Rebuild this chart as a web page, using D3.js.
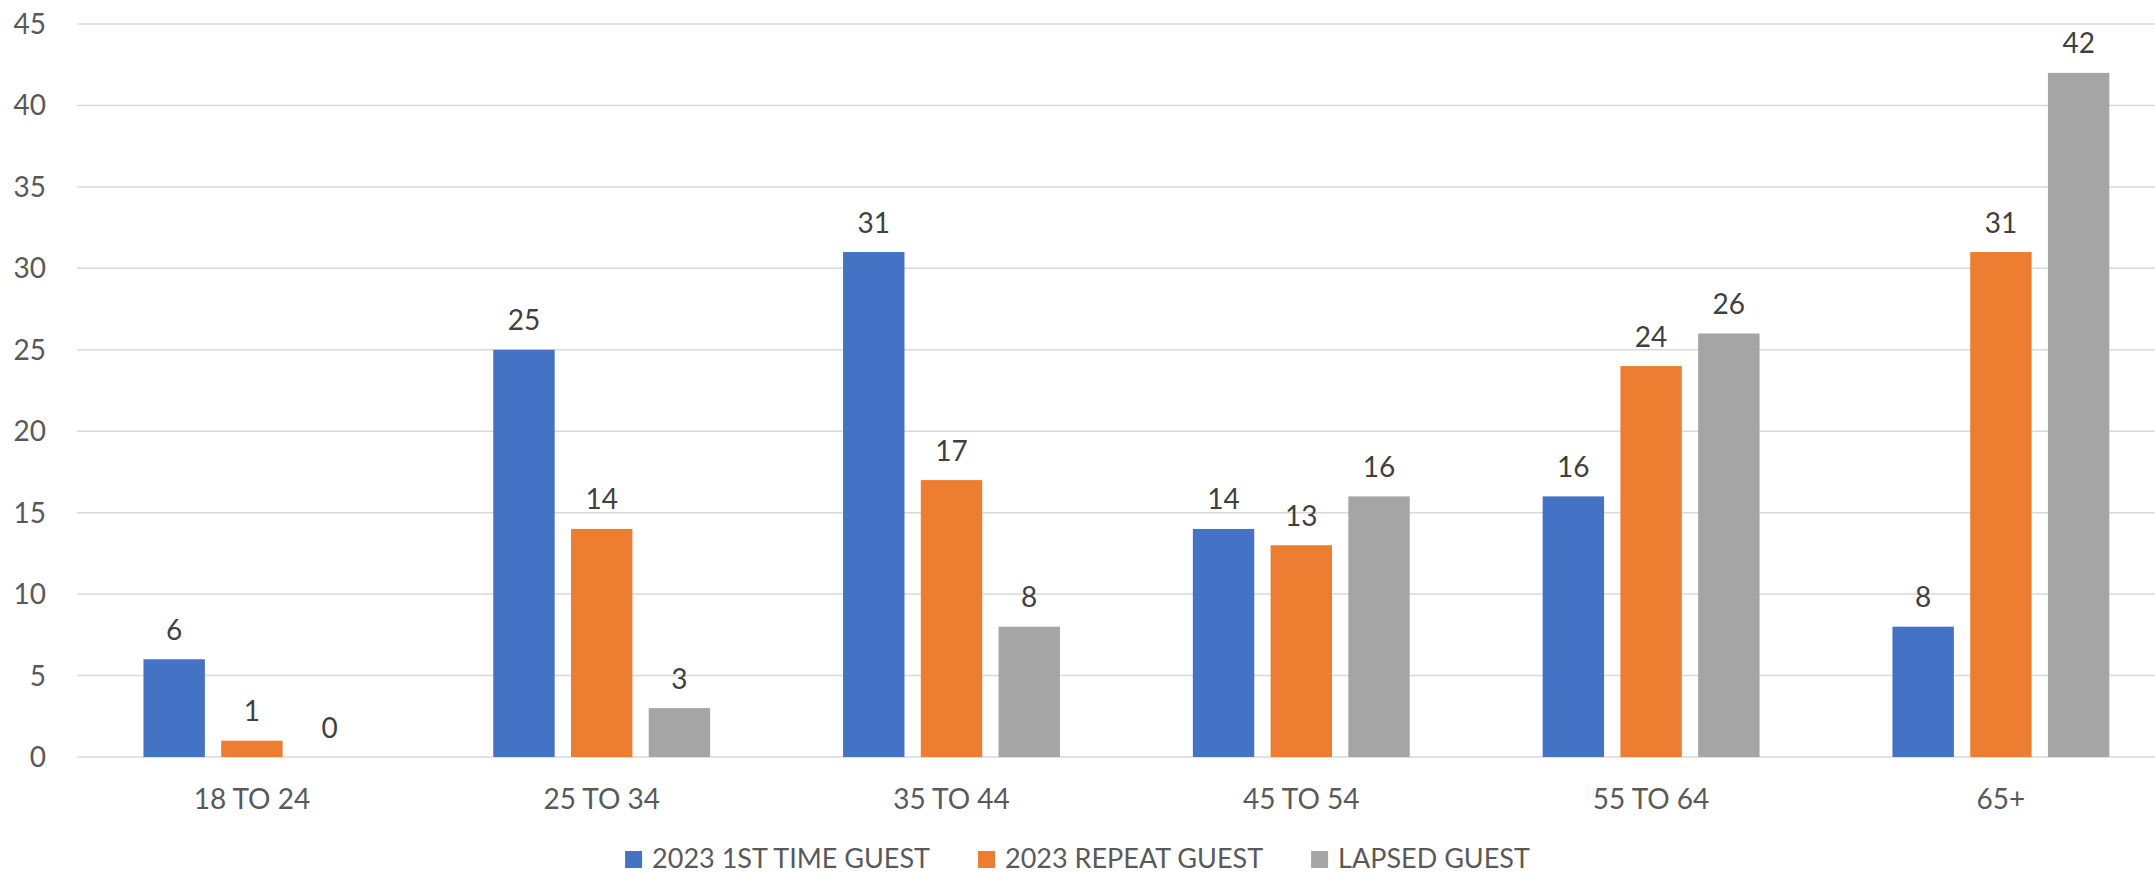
<!DOCTYPE html>
<html>
<head>
<meta charset="utf-8">
<script src="https://cdn.jsdelivr.net/npm/d3@7"></script>
<style>
  html, body { margin: 0; padding: 0; background: #ffffff; }
  svg { display: block; font-family: Lato, "Open Sans", "Liberation Sans", sans-serif; }
</style>
</head>
<body>
<svg id="chart" width="2155" height="874"></svg>
<script>
// Age groups along the x axis
const categories = ["18 TO 24", "25 TO 34", "35 TO 44", "45 TO 54", "55 TO 64", "65+"];

// Guest segments and their counts per age group
const seriesNames = ["2023 1ST TIME GUEST", "2023 REPEAT GUEST", "LAPSED GUEST"];
const firstTimeGuest = [6, 25, 31, 14, 16, 8];
const repeatGuest    = [1, 14, 17, 13, 24, 31];
const lapsedGuest    = [0, 3, 8, 16, 26, 42];
const seriesColors   = ["#4472C4", "#ED7D31", "#A5A5A5"];

// Value axis ticks
const yTicks = [0, 5, 10, 15, 20, 25, 30, 35, 40, 45];

const seriesValues = [firstTimeGuest, repeatGuest, lapsedGuest];

const svg = d3.select("#chart");
const W = 2155;

const plotLeft = 77, bandStep = 349.8;
const y = d3.scaleLinear().domain([0, 45]).range([757, 24]);
const x0 = d3.scaleBand().domain(categories)
  .range([plotLeft, plotLeft + bandStep * categories.length]);
const x1 = d3.scaleBand().domain(seriesNames)
  .range([0, x0.bandwidth()]).paddingInner(0.21).paddingOuter(0.855);

// Horizontal gridlines
svg.append("g").selectAll("line").data(yTicks).join("line")
  .attr("x1", plotLeft).attr("x2", W)
  .attr("y1", d => y(d)).attr("y2", d => y(d))
  .attr("stroke", "#d9d9d9").attr("stroke-width", 1.5);

// Y tick labels
svg.append("g").selectAll("text").data(yTicks).join("text")
  .attr("x", 46).attr("y", d => y(d) + 10)
  .attr("text-anchor", "end")
  .attr("font-size", 28).attr("fill", "#595959")
  .text(d => d);

// Grouped bars and their value labels
const groups = svg.append("g").selectAll("g").data(categories).join("g")
  .attr("transform", c => `translate(${x0(c)},0)`);

const cells = groups.selectAll("g.cell")
  .data((c, ci) => seriesNames.map((s, si) => ({ s, si, v: seriesValues[si][ci] })))
  .join("g").attr("class", "cell");

cells.append("rect")
  .attr("x", d => x1(d.s))
  .attr("width", x1.bandwidth())
  .attr("y", d => y(d.v))
  .attr("height", d => y(0) - y(d.v))
  .attr("fill", d => seriesColors[d.si]);

cells.append("text")
  .attr("x", d => x1(d.s) + x1.bandwidth() / 2)
  .attr("y", d => y(d.v) - 19.5)
  .attr("text-anchor", "middle")
  .attr("font-size", 28).attr("fill", "#404040")
  .text(d => d.v);

// Category labels
svg.append("g").selectAll("text").data(categories).join("text")
  .attr("x", c => x0(c) + x0.bandwidth() / 2)
  .attr("y", 809)
  .attr("text-anchor", "middle")
  .attr("font-size", 28).attr("fill", "#595959")
  .text(c => c);

// Legend, centred under the chart
const legend = svg.append("g");
const items = legend.selectAll("g").data(seriesNames).join("g");
items.append("rect").attr("width", 17).attr("height", 17)
  .attr("y", 851).attr("fill", (d, i) => seriesColors[i]);
items.append("text").attr("x", 27).attr("y", 868)
  .attr("font-size", 27).attr("fill", "#595959").text(d => d);

const gap = 48;
let offsets = [], cursor = 0;
items.each(function () {
  offsets.push(cursor);
  const tw = d3.select(this).select("text").node().getComputedTextLength();
  cursor += 27 + tw + gap;
});
const total = cursor - gap;
const start = W / 2 - total / 2;
items.attr("transform", (d, i) => `translate(${start + offsets[i]},0)`);
</script>
</body>
</html>
